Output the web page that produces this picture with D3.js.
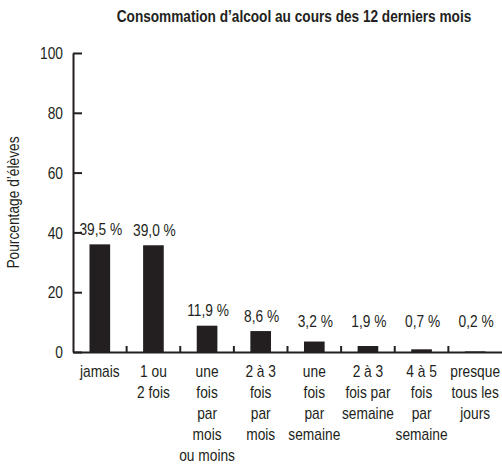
<!DOCTYPE html>
<html lang="fr">
<head>
<meta charset="utf-8">
<title>alcool</title>
<script src="https://cdn.jsdelivr.net/npm/d3@7"></script>
<style>
  body { margin: 0; background: #fff; }
  text { font-family: "Liberation Sans", Arial, sans-serif; fill: #231f20; }
</style>
</head>
<body>
<script>
// categories (line breaks as in the picture)
var categories = [
  "jamais",
  "1 ou\n2 fois",
  "une\nfois\npar\nmois\nou moins",
  "2 à 3\nfois\npar\nmois",
  "une\nfois\npar\nsemaine",
  "2 à 3\nfois par\nsemaine",
  "4 à 5\nfois\npar\nsemaine",
  "presque\ntous les\njours"
];
// bar heights as drawn in the picture
var values = [36.0, 35.7, 8.8, 7.0, 3.5, 2.0, 0.9, 0.2];
// printed labels
var labels = ["39,5 %", "39,0 %", "11,9 %", "8,6 %", "3,2 %", "1,9 %", "0,7 %", "0,2 %"];
var yTicks = [0, 20, 40, 60, 80, 100];

var w = 502, h = 465;
var margin = { top: 53, left: 73, right: 0, bottom: 113 };
var narrow = 0.86;   // squeeze text, the original uses a condensed face
var fs = "16px";

var svg = d3.select("body").append("svg")
  .attr("width", w)
  .attr("height", h);

var x = d3.scaleBand()
  .domain(categories)
  .range([margin.left, w - margin.right])
  .paddingInner(0)
  .paddingOuter(0);

var y = d3.scaleLinear()
  .domain([0, 100])
  .range([h - margin.bottom, margin.top]);

var barW = x.bandwidth() * 0.385;

function squeeze(sel, s) {
  sel.attr("transform", function() {
    var cx = +d3.select(this).attr("x") || 0;
    return "translate(" + cx + ",0) scale(" + (s || narrow) + ",1) translate(" + (-cx) + ",0)";
  });
}

// title, squeezed to the width of the original
var title = svg.append("text")
  .attr("x", 294)
  .attr("y", 22)
  .attr("text-anchor", "middle")
  .style("font-weight", "bold")
  .style("font-size", "16.5px")
  .text("Consommation d\u2019alcool au cours des 12 derniers mois");
title.call(squeeze, 355 / title.node().getComputedTextLength());

// y axis title
svg.append("g")
  .attr("transform", "translate(19," + y(50) + ") rotate(-90)")
  .append("text")
  .attr("text-anchor", "middle")
  .style("font-size", fs)
  .text("Pourcentage d\u2019élèves")
  .call(squeeze);

// bars
svg.selectAll("rect.bar")
  .data(values)
  .enter()
  .append("rect")
  .attr("class", "bar")
  .attr("x", function(d, i) { return x(categories[i]) + (x.bandwidth() - barW) / 2; })
  .attr("width", barW)
  .attr("y", function(d) { return y(d); })
  .attr("height", function(d) { return y(0) - y(d); })
  .attr("fill", "#231f20");

// value labels
svg.selectAll("text.lab")
  .data(values)
  .enter()
  .append("text")
  .attr("class", "lab")
  .attr("x", function(d, i) { return x(categories[i]) + x.bandwidth() / 2 + 1; })
  .attr("y", function(d) { return Math.min(y(d) - 9.5, y(8.3)); })
  .attr("text-anchor", "middle")
  .style("font-size", fs)
  .text(function(d, i) { return labels[i]; })
  .call(squeeze);

// y axis
var yaxis = d3.axisLeft(y)
  .tickValues(yTicks)
  .tickSizeInner(-9)
  .tickSizeOuter(0)
  .tickPadding(10);

var gy = svg.append("g")
  .attr("transform", "translate(" + margin.left + ",0)")
  .call(yaxis);
gy.select(".domain").attr("stroke", "#231f20").attr("stroke-width", 2);
gy.selectAll(".tick line").attr("stroke", "#231f20").attr("stroke-width", 2);
gy.selectAll(".tick text")
  .style("font-size", fs)
  .style("font-family", null)
  .attr("fill", "#231f20")
  .attr("dy", "0.36em")
  .call(squeeze);

// x axis
var xaxis = d3.axisBottom(x)
  .tickSize(0)
  .tickPadding(0);

var gx = svg.append("g")
  .attr("transform", "translate(0," + y(0) + ")")
  .call(xaxis);
gx.select(".domain").attr("stroke", "#231f20").attr("stroke-width", 2);
gx.selectAll(".tick text").remove();
gx.selectAll(".tick").each(function(d) {
  var t = d3.select(this).append("text")
    .attr("text-anchor", "middle")
    .attr("fill", "#231f20")
    .style("font-size", fs);
  d.split("\n").forEach(function(line, k) {
    t.append("tspan")
      .attr("x", 0)
      .attr("y", 25 + k * 21)
      .text(line);
  });
  t.call(squeeze);
});

// separator ticks between categories
svg.selectAll("line.sep")
  .data(categories.slice(1))
  .enter()
  .append("line")
  .attr("class", "sep")
  .attr("x1", function(d) { return x(d); })
  .attr("x2", function(d) { return x(d); })
  .attr("y1", y(0))
  .attr("y2", y(0) - 6)
  .attr("stroke", "#231f20")
  .attr("stroke-width", 2);
</script>
</body>
</html>
